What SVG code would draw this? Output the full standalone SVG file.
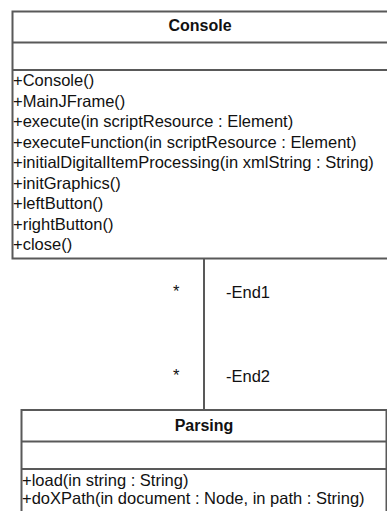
<svg xmlns="http://www.w3.org/2000/svg" width="387" height="511" viewBox="0 0 387 511">
<style>
text{font-family:"Liberation Sans",Arial,sans-serif;font-size:16.5px;fill:#111}
.t{font-weight:bold;text-anchor:middle;font-size:16px}
.b{fill:#fff;stroke:#595959;stroke-width:2}
.s{stroke:#595959;stroke-width:2;fill:none}
</style>
<rect width="387" height="511" fill="#fff"/>
<g id="connectors">
<line class="s" x1="204" y1="258" x2="204" y2="410"/>
<text x="173" y="297">*</text>
<text x="226" y="298">-End1</text>
<text x="173" y="381">*</text>
<text x="226" y="382">-End2</text>
</g>
<g id="Console">
<rect class="b" x="12.5" y="11.5" width="380" height="247"/>
<line class="s" x1="12.5" y1="42.5" x2="392" y2="42.5"/>
<line class="s" x1="12.5" y1="70" x2="392" y2="70"/>
<text class="t" x="200" y="31">Console</text>
<text x="13" y="86">+Console()</text>
<text x="13" y="106.5">+MainJFrame()</text>
<text x="13" y="127">+execute(in scriptResource : Element)</text>
<text x="13" y="147.5">+executeFunction(in scriptResource : Element)</text>
<text x="13" y="168">+initialDigitalItemProcessing(in xmlString : String)</text>
<text x="13" y="188.5">+initGraphics()</text>
<text x="13" y="209">+leftButton()</text>
<text x="13" y="229.5">+rightButton()</text>
<text x="13" y="250">+close()</text>
</g>
<g id="Parsing">
<rect class="b" x="21.5" y="410" width="365" height="120"/>
<line class="s" x1="21.5" y1="441.5" x2="386.5" y2="441.5"/>
<line class="s" x1="21.5" y1="469" x2="386.5" y2="469"/>
<text class="t" x="204" y="431">Parsing</text>
<text x="22" y="486">+load(in string : String)</text>
<text x="22" y="504">+doXPath(in document : Node, in path : String)</text>
</g>
</svg>
